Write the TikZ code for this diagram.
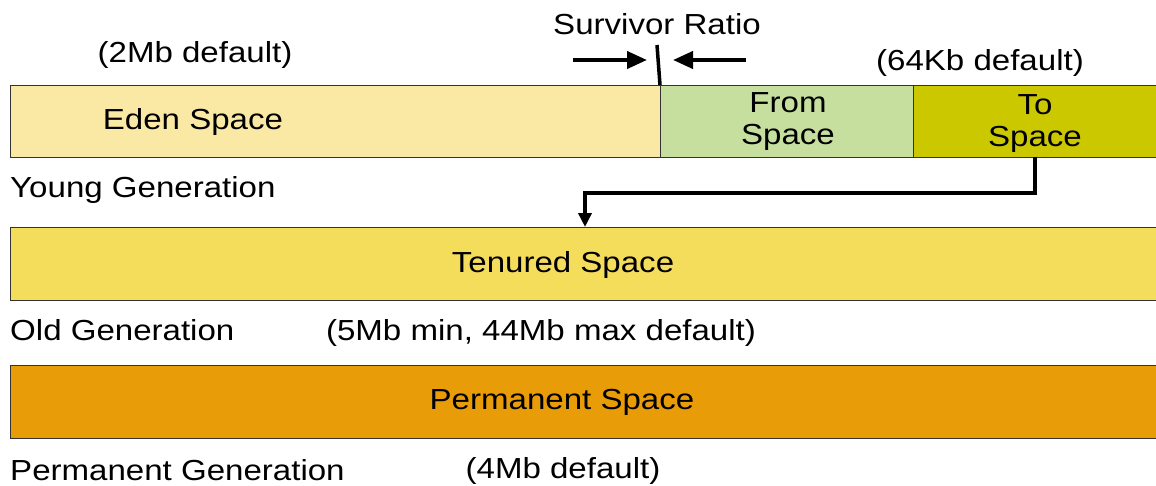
\documentclass[tikz,border=0pt]{standalone}
\usepackage{fontspec}
\setmainfont[FakeStretch=1.14]{Liberation Sans}
\usetikzlibrary{arrows.meta,calc}

\definecolor{edencol}{HTML}{FAE9A4}
\definecolor{fromcol}{HTML}{C6DF9E}
\definecolor{tocol}{HTML}{CCC800}
\definecolor{tenuredcol}{HTML}{F5DD5C}
\definecolor{permcol}{HTML}{E89C08}

\tikzset{
    space/.style={draw=black!80, line width=1pt},
    lbl/.style={font=\fontsize{29}{32}\selectfont, inner sep=0pt, align=center, yshift=-2.5pt},
    heavy/.style={line width=4pt, -{Stealth[length=20pt,width=17pt,inset=0pt]}}
}

\begin{document}
\begin{tikzpicture}[x=1pt,y=-1pt]
    \useasboundingbox (0,0) rectangle (1156,485);
    % Definitions
    \coordinate (youngTL) at (10,85);
    \coordinate (youngBR) at (1156,157);
    \coordinate (splitA)  at (660,85);
    \coordinate (splitB)  at (913,85);
    % Young generation
    \draw[space,fill=edencol] (youngTL) rectangle (splitA |- youngBR);
    \draw[space,fill=fromcol] (splitA)  rectangle (splitB |- youngBR);
    \draw[space,fill=tocol]   (splitB)  rectangle (youngBR);
    \node[lbl] (eden) at (193,119) {Eden Space};
    \node[lbl] (from) at (788,119) {From\\Space};
    \node[lbl] (to)   at (1035,121) {To\\Space};
    \node[lbl,anchor=west] (young) at (10,187) {Young Generation};
    \node[lbl] (edendef) at (195,52) {(2Mb default)};
    \node[lbl] (todef)   at (980,60) {(64Kb default)};
    % Survivor ratio marker
    \node[lbl] (ratio) at (657,22) {Survivor Ratio};
    \coordinate (tick) at (657,45);
    \draw[line width=3.5pt] (tick) -- (splitA);
    \draw[heavy] (573,60) -- (647,60);
    \draw[heavy] (746,60) -- (673,60);
    % Old generation
    \node[space,fill=tenuredcol,minimum width=1146pt,minimum height=73pt,
          anchor=north west,inner sep=0pt] (tenured) at (10,227) {};
    \node[lbl] at (563,262) {Tenured Space};
    \node[lbl,anchor=west] (old) at (10,328) {Old Generation};
    \node[lbl] (olddef) at (541,330) {(5Mb min, 44Mb max default)};
    % Promotion path
    \coordinate (bend) at (585,193);
    \draw[line width=3.5pt,-{Stealth[length=14pt,width=13pt,inset=0pt]}]
        (1035,157) |- (bend) -- (tenured.north -| bend);
    % Permanent generation
    \node[space,fill=permcol,minimum width=1146pt,minimum height=73pt,
          anchor=north west,inner sep=0pt] (perm) at (10,365) {};
    \node[lbl] at (562,400) {Permanent Space};
    \node[lbl,anchor=west] (permgen) at (10,468) {Permanent Generation};
    \node[lbl] (permdef) at (563,468) {(4Mb default)};
\end{tikzpicture}
\end{document}
